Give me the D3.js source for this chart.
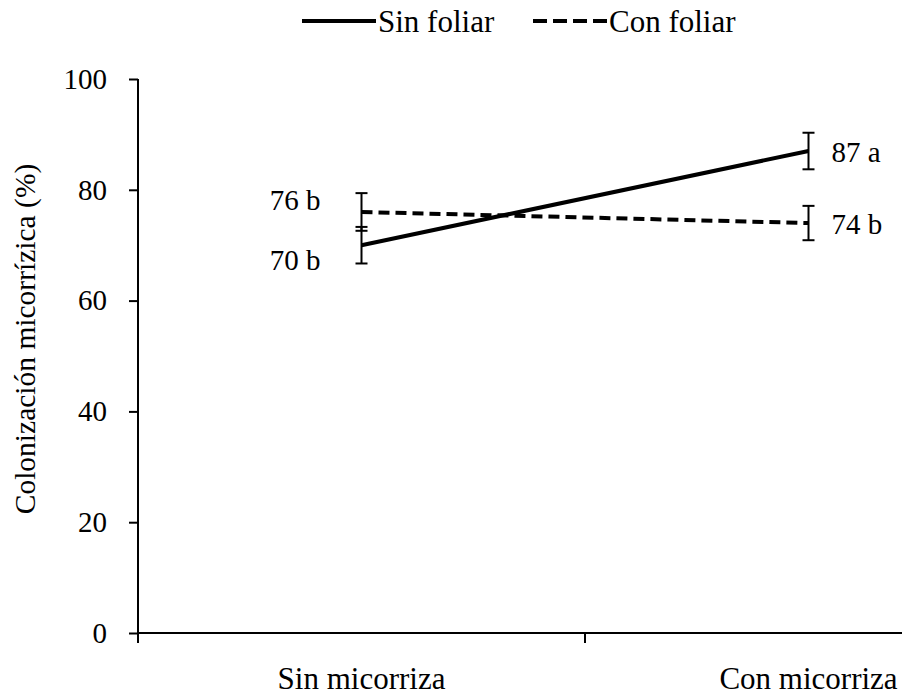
<!DOCTYPE html>
<html>
<head>
<meta charset="utf-8">
<script src="https://cdn.jsdelivr.net/npm/d3@7"></script>
<style>
  html, body { margin: 0; padding: 0; background: #fff; }
  svg text { font-family: "Liberation Serif", "DejaVu Serif", serif; }
</style>
</head>
<body>
<svg id="chart" width="902" height="693"></svg>
<script>
// Mycorrhizal colonization by treatment
const categories = ["Sin micorriza", "Con micorriza"];
const seriesNames = ["Sin foliar", "Con foliar"];
const sinFoliar = [70, 87];
const conFoliar = [76, 74];
const sinFoliarErr = [3.3, 3.3];
const conFoliarErr = [3.4, 3.1];
const sinFoliarLetters = ["b", "a"];
const conFoliarLetters = ["b", "b"];
const yTicks = [0, 20, 40, 60, 80, 100];
const yLabel = "Colonización micorrízica (%)";

const FONT = "'Liberation Serif', 'DejaVu Serif', serif";

const series = [
  { name: seriesNames[0], values: sinFoliar, err: sinFoliarErr, letters: sinFoliarLetters, dash: null },
  { name: seriesNames[1], values: conFoliar, err: conFoliarErr, letters: conFoliarLetters, dash: "11,6" }
];

const svg = d3.select("#chart");
const x0 = 138, x1 = 1032, yTop = 79, yBottom = 633;

const x = d3.scaleBand().domain(categories).range([x0, x1]);
const cx = c => x(c) + x.bandwidth() / 2;
const y = d3.scaleLinear().domain([0, 100]).range([yBottom, yTop]);

// y axis
const yAxis = svg.append("g")
  .attr("transform", `translate(${x0},0)`)
  .call(d3.axisLeft(y).tickValues(yTicks).tickSize(9).tickPadding(22).tickSizeOuter(0));
yAxis.attr("font-family", FONT);
yAxis.select(".domain").attr("stroke", "#000").attr("stroke-width", 2)
  .attr("d", `M0,${yTop}V${yBottom + 10}`);
yAxis.selectAll(".tick line").attr("stroke", "#000").attr("stroke-width", 2);
yAxis.selectAll(".tick text").attr("font-size", 29).attr("fill", "#000")
  .style("font-family", FONT);

// x axis with tick marks between categories
const xAxis = svg.append("g").attr("transform", `translate(0,${yBottom})`);
xAxis.append("line").attr("x1", x0).attr("x2", x1).attr("y1", 0).attr("y2", 0)
  .attr("stroke", "#000").attr("stroke-width", 2);
xAxis.selectAll(".sep").data(categories.slice(1)).join("line")
  .attr("x1", d => x(d)).attr("x2", d => x(d)).attr("y1", 0).attr("y2", 10)
  .attr("stroke", "#000").attr("stroke-width", 2);
xAxis.selectAll(".lbl").data(categories).join("text")
  .attr("x", d => cx(d)).attr("y", 56)
  .attr("text-anchor", "middle").attr("font-size", 31).attr("fill", "#000")
  .style("font-family", FONT)
  .text(d => d);

// y axis title
svg.append("text")
  .attr("transform", `translate(35,${(yTop + yBottom) / 2 - 17}) rotate(-90)`)
  .attr("text-anchor", "middle").attr("font-size", 29.5).attr("fill", "#000")
  .style("font-family", FONT)
  .text(yLabel);

// error bars
series.forEach(s => {
  const g = svg.append("g");
  categories.forEach((c, i) => {
    const xc = cx(c), hi = y(s.values[i] + s.err[i]), lo = y(s.values[i] - s.err[i]);
    g.append("line").attr("x1", xc).attr("x2", xc).attr("y1", hi).attr("y2", lo)
      .attr("stroke", "#000").attr("stroke-width", 2);
    [hi, lo].forEach(v => g.append("line")
      .attr("x1", xc - 6).attr("x2", xc + 6).attr("y1", v).attr("y2", v)
      .attr("stroke", "#000").attr("stroke-width", 2));
  });
});

// series lines
const line = d3.line().x((d, i) => cx(categories[i])).y(d => y(d));
series.forEach(s => {
  svg.append("path").datum(s.values)
    .attr("d", line).attr("fill", "none").attr("stroke", "#000")
    .attr("stroke-width", 4).attr("stroke-dasharray", s.dash);
});

// value labels with significance letters
const fmt = (v, l) => `${v} ${l}`;
// first category: higher value above, lower below, right-aligned
const firstIdx = 0;
series.forEach(s => {
  const v = s.values[firstIdx];
  const other = series.find(o => o !== s).values[firstIdx];
  const above = v >= other;
  svg.append("text")
    .attr("x", cx(categories[firstIdx]) - 41)
    .attr("y", y(v) + (above ? -2 : 25))
    .attr("text-anchor", "end").attr("font-size", 29).attr("fill", "#000")
    .style("font-family", FONT)
    .text(fmt(v, s.letters[firstIdx]));
});
// second category: to the right of the point
series.forEach(s => {
  const v = s.values[1];
  svg.append("text")
    .attr("x", cx(categories[1]) + 23)
    .attr("y", y(v) + 11)
    .attr("text-anchor", "start").attr("font-size", 29).attr("fill", "#000")
    .style("font-family", FONT)
    .text(fmt(v, s.letters[1]));
});

// legend
const legendItems = [
  { s: series[0], x: 302 },
  { s: series[1], x: 533 }
];
legendItems.forEach(li => {
  svg.append("line").attr("x1", li.x).attr("x2", li.x + 74).attr("y1", 21).attr("y2", 21)
    .attr("stroke", "#000").attr("stroke-width", 4)
    .attr("stroke-dasharray", li.s.dash ? "14,6" : null);
  svg.append("text").attr("x", li.x + 76).attr("y", 32)
    .attr("font-size", 31).attr("fill", "#000")
    .style("font-family", FONT)
    .text(li.s.name);
});
</script>
</body>
</html>
